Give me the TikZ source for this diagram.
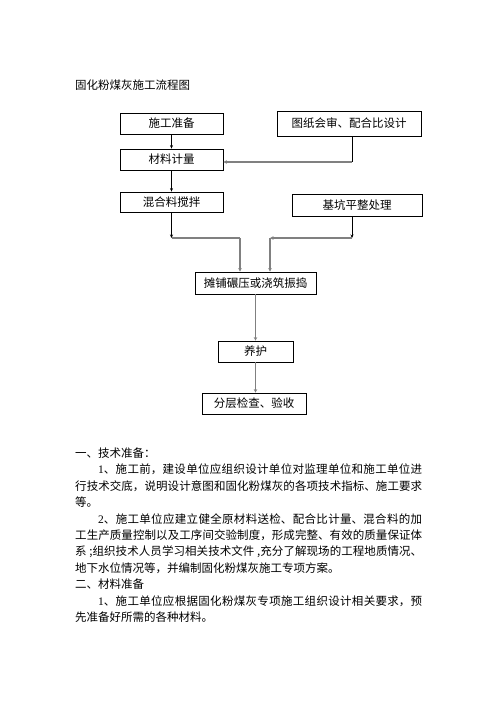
\documentclass[tikz,border=0pt]{standalone}
\usepackage{fontspec}
\setmainfont{Noto Sans CJK SC}
\newfontfamily\numfont{Liberation Serif}
\XeTeXlinebreaklocale "zh"
\XeTeXlinebreakskip=0pt plus 1pt
\usetikzlibrary{arrows.meta}
\tikzset{
  box/.style={draw, line width=0.8pt, inner sep=0pt, font=\fontsize{11.5}{14}\selectfont},
  blk/.style={line width=0.8pt, -{Stealth[length=3.5pt,width=3pt]}},
  gry/.style={gray, line width=1.6pt},
  gryarr/.style={gray, line width=1.6pt, -{Stealth[length=3.5pt,width=3.5pt]}},
}
\begin{document}
\begin{tikzpicture}[x=1pt,y=-1pt]
	\useasboundingbox (0,0) rectangle (496,702);
	\node[anchor=west, inner sep=0pt, font=\fontsize{11.5}{14}\selectfont] (title) at (75,85) {固化粉煤灰施工流程图};
	% left column
	\node[box, minimum width=103pt, minimum height=21pt] (prep) at (171.5,123.5) {施工准备};
	\node[box, minimum width=103pt, minimum height=21pt] (meter) at (171.5,159.5) {材料计量};
	\node[box, minimum width=103pt, minimum height=20pt] (mix) at (171.5,202) {混合料搅拌};
	% right column
	\node[box, minimum width=144pt, minimum height=25pt] (design) at (349,123.5) {图纸会审、配合比设计};
	\node[box, minimum width=130pt, minimum height=22pt] (base) at (357,205) {基坑平整处理};
	% middle column
	\node[box, minimum width=121pt, minimum height=22pt] (pave) at (255.5,283) {摊铺碾压或浇筑振捣};
	\node[box, minimum width=75pt, minimum height=21pt] (cure) at (255.5,351.5) {养护};
	\node[box, minimum width=104pt, minimum height=21pt] (check) at (254,403.5) {分层检查、验收};
	% connectors
	\draw[blk] (prep) -- (meter);
	\draw[blk] (meter) -- (mix);
	\coordinate (d1) at (352,136);
	\coordinate (k1) at (352,162);
	\draw[line width=0.8pt] (d1) -- (k1);
	\draw[gryarr] (k1) -- (meter.east |- k1);
	\coordinate (m1) at (171.5,238);
	\coordinate (m2) at (240,238);
	\draw[blk] (mix) -- (m1);
	\draw[gry] (m1) -- (m2);
	\draw[gryarr] (m2) -- (m2 |- pave.north);
	\coordinate (b1) at (352,238);
	\coordinate (b2) at (270,238);
	\draw[blk] (base.south -| b1) -- (b1);
	\draw[gryarr] (b1) -- (b2);
	\draw[gryarr] (b2) -- (b2 |- pave.north);
	\draw[gryarr] (pave) -- (cure);
	\draw[gryarr] (cure.south) -- (cure.south |- check.north);
	% text below
	\node[anchor=north west, inner sep=0pt, text width=347pt, align=justify,
	      font=\fontsize{11.5}{16.4}\selectfont] (body) at (75,447.5) {%
	\parindent=0pt
	一、技术准备：\par
	\hspace*{23pt}{\numfont 1}、施工前，建设单位应组织设计单位对监理单位和施工单位进\linebreak
	行技术交底，说明设计意图和固化粉煤灰的各项技术指标、施工要求\linebreak
	等。\par
	\hspace*{23pt}{\numfont 2}、施工单位应建立健全原材料送检、配合比计量、混合料的加\linebreak
	工生产质量控制以及工序间交验制度，形成完整、有效的质量保证体\linebreak
	系 ;组织技术人员学习相关技术文件 ,充分了解现场的工程地质情况、\linebreak
	地下水位情况等，并编制固化粉煤灰施工专项方案。\par
	二、材料准备\par
	\hspace*{23pt}{\numfont 1}、施工单位应根据固化粉煤灰专项施工组织设计相关要求，预\linebreak
	先准备好所需的各种材料。\par}; 
\end{tikzpicture}
\end{document}
